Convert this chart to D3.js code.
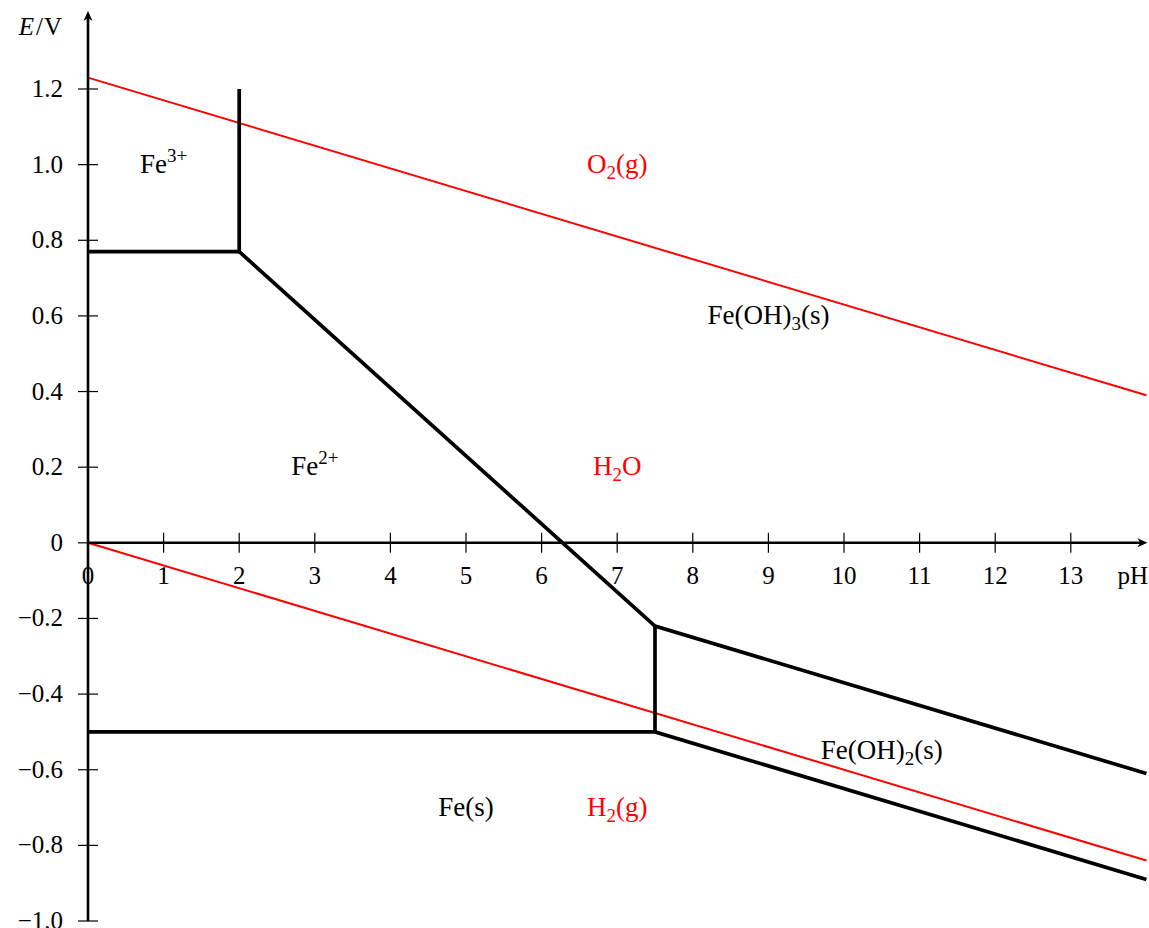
<!DOCTYPE html>
<html lang="en">
  <head>
    <meta charset="UTF-8" />
    <title>Pourbaix diagram of iron</title>
    <script src="https://d3js.org/d3.v7.min.js"></script>
    <style>
      html,
      body {
        margin: 0;
        padding: 0;
        background: #fff;
      }
      svg {
        display: block;
        font-family: "Liberation Serif", "DejaVu Serif", serif;
      }
      .tick-label {
        font-size: 25px;
      }
      .region {
        font-size: 27px;
      }
    </style>
  </head>
  <body>
    <svg id="chart" width="1149" height="928"></svg>

    <script>
      // axis ticks
      const xTicks = [0, 1, 2, 3, 4, 5, 6, 7, 8, 9, 10, 11, 12, 13];
      const yTicks = [-1.0, -0.8, -0.6, -0.4, -0.2, 0, 0.2, 0.4, 0.6, 0.8, 1.0, 1.2];

      // iron boundaries (pH, E)
      const fe3Fe2 = [[0, 0.77], [2, 0.77]];
      const fe3FeOH3 = [[2, 0.77], [2, 1.2]];
      const fe2FeOH3 = [[2, 0.77], [7.5, -0.22], [14, -0.61]];
      const fe2FeOH2 = [[7.5, -0.22], [7.5, -0.5]];
      const feFe2 = [[0, -0.5], [7.5, -0.5], [14, -0.89]];

      // water stability lines
      const o2Line = [[0, 1.23], [14, 0.39]];
      const h2Line = [[0, 0], [14, -0.84]];

      // region labels: [pH, E, parts, colour]; parts: [text, "n"|"sub"|"sup"]
      const labels = [
        [1, 1.0, [["Fe", "n"], ["3+", "sup"]], "black"],
        [7, 1.0, [["O", "n"], ["2", "sub"], ["(g)", "n"]], "red"],
        [9, 0.6, [["Fe(OH)", "n"], ["3", "sub"], ["(s)", "n"]], "black"],
        [3, 0.2, [["Fe", "n"], ["2+", "sup"]], "black"],
        [7, 0.2, [["H", "n"], ["2", "sub"], ["O", "n"]], "red"],
        [5, -0.7, [["Fe(s)", "n"]], "black"],
        [7, -0.7, [["H", "n"], ["2", "sub"], ["(g)", "n"]], "red"],
        [10.5, -0.55, [["Fe(OH)", "n"], ["2", "sub"], ["(s)", "n"]], "black"],
      ];

      const svg = d3.select("#chart");

      const x = d3.scaleLinear().domain([0, 14]).range([88, 1146.4]);
      const y = d3.scaleLinear().domain([-1, 1.2]).range([921, 89]);

      const line = d3
        .line()
        .x((d) => x(d[0]))
        .y((d) => y(d[1]));

      // water lines (red)
      svg
        .selectAll("path.water")
        .data([o2Line, h2Line])
        .enter()
        .append("path")
        .attr("class", "water")
        .attr("d", line)
        .attr("fill", "none")
        .attr("stroke", "#ff0000")
        .attr("stroke-width", 2);

      // iron boundaries (black)
      svg
        .selectAll("path.iron")
        .data([fe3Fe2, fe3FeOH3, fe2FeOH3, fe2FeOH2, feFe2])
        .enter()
        .append("path")
        .attr("class", "iron")
        .attr("d", line)
        .attr("fill", "none")
        .attr("stroke", "black")
        .attr("stroke-width", 3.7)
        .attr("stroke-linejoin", "miter");

      // axes
      const axes = svg.append("g");
      axes
        .append("line")
        .attr("x1", x(0))
        .attr("x2", x(14) - 6)
        .attr("y1", y(0))
        .attr("y2", y(0))
        .attr("stroke", "black")
        .attr("stroke-width", 2.6);
      axes
        .append("line")
        .attr("x1", x(0))
        .attr("x2", x(0))
        .attr("y1", y(-1))
        .attr("y2", 18)
        .attr("stroke", "black")
        .attr("stroke-width", 2.6);

      // arrow heads
      const arrow = (tx, ty, angle) =>
        axes
          .append("path")
          .attr("d", "M0,0 L-10,-4.5 L-7,0 L-10,4.5 Z")
          .attr("transform", `translate(${tx},${ty}) rotate(${angle})`)
          .attr("fill", "black");
      arrow(x(14) + 1, y(0), 0);
      arrow(x(0), 11, -90);

      // ticks crossing the axes
      axes
        .selectAll("line.xtick")
        .data(xTicks.filter((d) => d !== 0))
        .enter()
        .append("line")
        .attr("class", "xtick")
        .attr("x1", (d) => x(d))
        .attr("x2", (d) => x(d))
        .attr("y1", y(0) - 10)
        .attr("y2", y(0) + 10)
        .attr("stroke", "black")
        .attr("stroke-width", 1.2);

      axes
        .selectAll("line.ytick")
        .data(yTicks)
        .enter()
        .append("line")
        .attr("class", "ytick")
        .attr("x1", x(0) - 10)
        .attr("x2", x(0) + 10)
        .attr("y1", (d) => y(d))
        .attr("y2", (d) => y(d))
        .attr("stroke", "black")
        .attr("stroke-width", 1.2);

      const fmt = (d) => (d === 0 ? "0" : d3.format(".1f")(d).replace("-", "\u2212"));

      axes
        .selectAll("text.xlabel")
        .data(xTicks)
        .enter()
        .append("text")
        .attr("class", "tick-label")
        .attr("x", (d) => x(d))
        .attr("y", y(0) + 41)
        .attr("text-anchor", "middle")
        .text((d) => d);

      axes
        .selectAll("text.ylabel")
        .data(yTicks)
        .enter()
        .append("text")
        .attr("class", "tick-label")
        .attr("x", 63)
        .attr("y", (d) => y(d) + 8)
        .attr("text-anchor", "end")
        .text(fmt);

      // axis titles
      axes
        .append("text")
        .attr("class", "tick-label")
        .attr("x", 1148)
        .attr("y", y(0) + 41)
        .attr("text-anchor", "end")
        .text("pH");

      const eLabel = axes
        .append("text")
        .attr("class", "tick-label")
        .attr("x", 62)
        .attr("y", 35)
        .attr("font-size", "27px")
        .attr("text-anchor", "end");
      eLabel.append("tspan").attr("font-style", "italic").text("E");
      eLabel.append("tspan").attr("dx", 2).text("/");
      eLabel.append("tspan").attr("dx", 1).text("V");

      // region labels
      labels.forEach(([px, py, parts, colour]) => {
        const t = svg
          .append("text")
          .attr("class", "region")
          .attr("x", x(px))
          .attr("y", y(py) + 8)
          .attr("text-anchor", "middle")
          .attr("fill", colour);
        let shift = 0;
        parts.forEach(([txt, kind]) => {
          const target = kind === "sup" ? -11 : kind === "sub" ? 6 : 0;
          t.append("tspan")
            .attr("dy", target - shift)
            .attr("font-size", kind === "n" ? null : "19px")
            .text(txt);
          shift = target;
        });
      });
    </script>
  </body>
</html>
